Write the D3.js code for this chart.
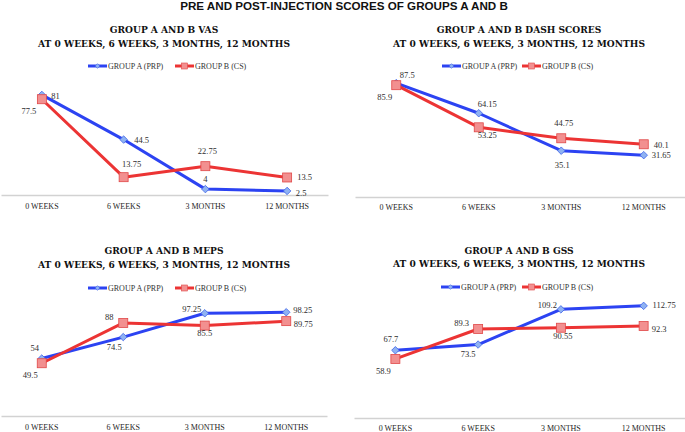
<!DOCTYPE html>
<html>
<head>
<meta charset="utf-8">
<script src="https://cdn.jsdelivr.net/npm/d3@7"></script>
<style>
  body { margin: 0; background: #fff; }
  svg { display: block; }
</style>
</head>
<body>
<svg id="chart" width="685" height="432"></svg>
<script>
const categories = ['0 WEEKS', '6 WEEKS', '3 MONTHS', '12 MONTHS'];
const seriesNames = ['GROUP A (PRP)', 'GROUP B (CS)'];

const vasA = [81, 44.5, 4, 2.5];
const vasB = [77.5, 13.75, 22.75, 13.5];
const dashA = [87.5, 64.15, 35.1, 31.65];
const dashB = [85.9, 53.25, 44.75, 40.1];
const mepsA = [54, 74.5, 97.25, 98.25];
const mepsB = [49.5, 88, 85.5, 89.75];
const gssA = [67.7, 73.5, 109.2, 112.75];
const gssB = [58.9, 89.3, 90.55, 92.3];

const mainTitle = 'PRE AND POST-INJECTION SCORES OF GROUPS A AND B';
const subTitle = 'AT 0 WEEKS, 6 WEEKS, 3 MONTHS, 12 MONTHS';

const blue = '#2c43f2';
const red = '#ec3434';

// layout of each panel (positions only)
const panels = [
  { title: 'GROUP A AND B VAS', a: vasA, b: vasB, x0: 1, x1: 328, y0: 194, yMax: 100, yTop: 71.7,
    cx: 164, ty: 29, lx: [88, 175], ly: 66, tickY: 206,
    offA: [[13.5, 1], [18, 0], [0, -10], [14, 2]],
    offB: [[-13, 12], [8, -13], [2, -15], [17.5, 0]] },
  { title: 'GROUP A AND B DASH SCORES', a: dashA, b: dashB, x0: 355, x1: 685, y0: 196, yMax: 100, yTop: 67,
    cx: 519, ty: 29, lx: [442, 522], ly: 66, tickY: 207,
    offA: [[11, -8], [8.5, -9], [1, 14], [17.5, 0]],
    offB: [[-11.5, 12], [8.5, 8], [2.5, -15], [17.5, 1]] },
  { title: 'GROUP A AND B MEPS', a: mepsA, b: mepsB, x0: 1, x1: 327, y0: 415, yMax: 120, yTop: 289.5,
    cx: 164, ty: 250, lx: [88, 175], ly: 288, tickY: 427,
    offA: [[-7, -11], [-9, 10], [-13, -4], [16.5, -2]],
    offB: [[-11.5, 12], [-14, -6], [0, 7], [17, 3]] },
  { title: 'GROUP A AND B GSS', a: gssA, b: gssB, x0: 354, x1: 685, y0: 417, yMax: 140, yTop: 279,
    cx: 519, ty: 249.5, lx: [441, 522], ly: 287, tickY: 428,
    offA: [[-4.5, -11], [-10, 9], [-13.5, -4], [20.5, -1]],
    offB: [[-12, 12], [-16.5, -6], [2, 8], [15.5, 3]] }
];

const svg = d3.select('#chart');

function fitText(sel, width) {
  const len = sel.node().getComputedTextLength();
  const size = parseFloat(sel.attr('font-size'));
  sel.attr('font-size', size * width / len);
}

const mt = svg.append('text')
  .attr('x', 344).attr('y', 10)
  .attr('text-anchor', 'middle')
  .attr('font-family', 'Liberation Sans, Arial, sans-serif')
  .attr('font-weight', 'bold')
  .attr('font-size', 11)
  .attr('fill', '#111')
  .text(mainTitle);
fitText(mt, 328);

const diamond = d3.symbol().type(d3.symbolDiamond2).size(36);

function drawMarker(g, kind, x, y) {
  if (kind === 0) {
    g.append('path')
      .attr('d', diamond())
      .attr('transform', `translate(${x},${y})`)
      .attr('fill', '#8fb2f2')
      .attr('stroke', '#3d63e8')
      .attr('stroke-width', 0.8);
  } else {
    g.append('rect')
      .attr('x', x - 4.5).attr('y', y - 4.5)
      .attr('width', 9).attr('height', 9)
      .attr('fill', '#f29090')
      .attr('stroke', '#e04848')
      .attr('stroke-width', 0.8);
  }
}

panels.forEach((p) => {
  const g = svg.append('g');

  const x = d3.scaleBand().domain(categories).range([p.x0, p.x1]);
  const y = d3.scaleLinear().domain([0, p.yMax]).range([p.y0, p.yTop]);
  const cxOf = (c) => x(c) + x.bandwidth() / 2;

  // titles
  const t2 = g.append('text')
    .attr('x', p.cx).attr('y', p.ty + 17.5)
    .attr('text-anchor', 'middle')
    .attr('font-family', 'DejaVu Serif, serif')
    .attr('font-weight', 'bold')
    .attr('font-size', 10)
    .attr('fill', '#111')
    .text(subTitle);
  fitText(t2, 252);
  g.append('text')
    .attr('x', p.cx).attr('y', p.ty + 4)
    .attr('text-anchor', 'middle')
    .attr('font-family', 'DejaVu Serif, serif')
    .attr('font-weight', 'bold')
    .attr('font-size', t2.attr('font-size'))
    .attr('fill', '#111')
    .text(p.title);

  // legend
  seriesNames.forEach((name, i) => {
    const lx = p.lx[i];
    g.append('line')
      .attr('x1', lx).attr('x2', lx + 19)
      .attr('y1', p.ly).attr('y2', p.ly)
      .attr('stroke', i === 0 ? blue : red)
      .attr('stroke-width', 3);
    if (i === 0) {
      g.append('path')
        .attr('d', d3.symbol().type(d3.symbolDiamond2).size(14)())
        .attr('transform', `translate(${lx + 9.5},${p.ly})`)
        .attr('fill', '#8fb2f2').attr('stroke', '#3d63e8').attr('stroke-width', 0.6);
    } else {
      g.append('rect')
        .attr('x', lx + 6.5).attr('y', p.ly - 3).attr('width', 6).attr('height', 6)
        .attr('fill', '#f29090').attr('stroke', '#e04848').attr('stroke-width', 0.6);
    }
    g.append('text')
      .attr('x', lx + 20).attr('y', p.ly + 3)
      .attr('font-family', 'Liberation Serif, serif')
      .attr('font-size', 8)
      .attr('fill', '#333')
      .text(name);
  });

  // axis
  const axis = g.append('g')
    .attr('transform', `translate(0,${p.y0 + 1})`)
    .call(d3.axisBottom(x).tickSize(0).tickPadding(0));
  axis.select('.domain').attr('stroke', '#d2d2d2').attr('stroke-width', 1.5);
  axis.selectAll('.tick text')
    .attr('y', p.tickY - p.y0 - 1 + 3)
    .attr('dy', null)
    .attr('font-family', 'Liberation Serif, serif')
    .attr('font-size', 8)
    .attr('fill', '#1e1e1e');

  // lines
  const line = d3.line()
    .x((d, i) => cxOf(categories[i]))
    .y((d) => y(d));

  [p.a, p.b].forEach((vals, k) => {
    g.append('path')
      .datum(vals)
      .attr('d', line)
      .attr('fill', 'none')
      .attr('stroke', k === 0 ? blue : red)
      .attr('stroke-width', 3)
      .attr('stroke-linejoin', 'round');
  });

  [p.a, p.b].forEach((vals, k) => {
    vals.forEach((v, i) => drawMarker(g, k, cxOf(categories[i]), y(v)));
  });

  // value labels
  [[p.a, p.offA], [p.b, p.offB]].forEach(([vals, offs]) => {
    vals.forEach((v, i) => {
      g.append('text')
        .attr('x', cxOf(categories[i]) + offs[i][0])
        .attr('y', y(v) + offs[i][1] + 3)
        .attr('text-anchor', 'middle')
        .attr('font-family', 'Liberation Serif, serif')
        .attr('font-size', 8.5)
        .attr('fill', '#2e2e2e')
        .text(v);
    });
  });
});
</script>
</body>
</html>
